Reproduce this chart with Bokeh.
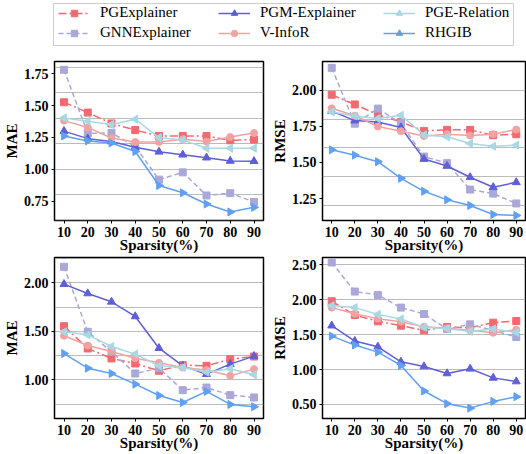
from bokeh.plotting import figure
from bokeh.layouts import column, row
from bokeh.models import (Range1d, FixedTicker, SingleIntervalTicker, Legend,
                          LegendItem, PrintfTickFormatter)
from bokeh.embed import file_html
from bokeh.resources import INLINE
import math

sparsity = [10, 20, 30, 40, 50, 60, 70, 80, 90]
x_ticks = [10, 20, 30, 40, 50, 60, 70, 80, 90]
methods = ["PGExplainer", "GNNExplainer", "PGM-Explainer", "V-InfoR", "PGE-Relation", "RHGIB"]

# ---- top-left: MAE ----
tl_pgexplainer = [1.526, 1.445, 1.360, 1.308, 1.262, 1.262, 1.262, 1.228, 1.234]
tl_gnnexplainer = [1.780, 1.282, 1.286, 1.180, 0.920, 0.977, 0.796, 0.814, 0.745]
tl_pgm = [1.300, 1.241, 1.218, 1.174, 1.138, 1.115, 1.092, 1.066, 1.064]
tl_vinfor = [1.382, 1.328, 1.246, 1.215, 1.215, 1.236, 1.218, 1.254, 1.285]
tl_pgerelation = [1.403, 1.377, 1.352, 1.393, 1.249, 1.231, 1.166, 1.166, 1.166]
tl_rhgib = [1.262, 1.223, 1.207, 1.140, 0.874, 0.817, 0.729, 0.667, 0.703]

# ---- top-right: RMSE ----
tr_pgexplainer = [1.968, 1.901, 1.830, 1.780, 1.718, 1.725, 1.725, 1.688, 1.695]
tr_gnnexplainer = [2.154, 1.768, 1.872, 1.770, 1.540, 1.495, 1.312, 1.284, 1.216]
tr_pgm = [1.855, 1.789, 1.780, 1.741, 1.523, 1.475, 1.397, 1.328, 1.362]
tr_vinfor = [1.874, 1.823, 1.748, 1.716, 1.683, 1.695, 1.686, 1.695, 1.727]
tr_pgerelation = [1.849, 1.821, 1.803, 1.826, 1.690, 1.677, 1.631, 1.612, 1.619]
tr_rhgib = [1.587, 1.550, 1.505, 1.390, 1.300, 1.241, 1.202, 1.140, 1.133]

# ---- bottom-left: MAE ----
bl_pgexplainer = [1.553, 1.323, 1.220, 1.168, 1.093, 1.151, 1.144, 1.213, 1.240]
bl_gnnexplainer = [2.165, 1.495, 1.290, 1.065, 1.120, 0.893, 0.920, 0.842, 0.818]
bl_pgm = [1.986, 1.890, 1.804, 1.653, 1.326, 1.144, 1.058, 1.162, 1.244]
bl_vinfor = [1.454, 1.354, 1.292, 1.223, 1.175, 1.127, 1.100, 1.041, 1.110]
bl_pgerelation = [1.495, 1.464, 1.344, 1.265, 1.144, 1.127, 1.079, 1.113, 1.052]
bl_rhgib = [1.271, 1.120, 1.065, 0.955, 0.838, 0.766, 0.880, 0.746, 0.722]

# ---- bottom-right: RMSE ----
br_pgexplainer = [1.978, 1.781, 1.690, 1.628, 1.561, 1.609, 1.600, 1.671, 1.695]
br_gnnexplainer = [2.534, 2.117, 2.069, 1.887, 1.796, 1.580, 1.647, 1.561, 1.465]
br_pgm = [1.628, 1.408, 1.326, 1.110, 1.043, 0.943, 1.010, 0.880, 0.828]
br_vinfor = [1.887, 1.800, 1.729, 1.685, 1.614, 1.590, 1.561, 1.527, 1.570]
br_pgerelation = [1.915, 1.887, 1.790, 1.724, 1.604, 1.585, 1.547, 1.580, 1.532]
br_rhgib = [1.479, 1.350, 1.249, 1.058, 0.692, 0.510, 0.447, 0.543, 0.610]

colors = ["#f26a6f", "#aaa7d9", "#5f5fd8", "#f3a2a2", "#a7d8e3", "#60a0f3"]
dashes = ["8 3 2 3", "5 3", "solid", "solid", "solid", "solid"]
markers = ["square", "square", "triangle", "circle", "triangle", "triangle"]
angles = [0, 0, 0, 0, math.pi / 2, -math.pi / 2]
msizes = [7, 7, 8, 7, 8, 8]

SERIF = "Liberation Serif"


def make_panel(series, ylabel, yr, yticks, grid_iv, w, left, right, top, bottom, h):
    p = figure(width=w, height=h, toolbar_location=None, output_backend="svg",
               x_range=Range1d(6, 94), y_range=Range1d(*yr),
               min_border_left=left, min_border_right=right,
               min_border_top=top, min_border_bottom=bottom)
    for i, ys in enumerate(series):
        p.line(sparsity, ys, line_color=colors[i], line_width=1.5, line_dash=dashes[i])
        p.scatter(sparsity, ys, marker=markers[i], size=msizes[i], angle=angles[i],
                  fill_color=colors[i], line_color=colors[i])
    p.xaxis.ticker = FixedTicker(ticks=x_ticks)
    p.yaxis.ticker = FixedTicker(ticks=yticks)
    p.yaxis.formatter = PrintfTickFormatter(format="%.2f")
    p.xgrid.visible = False
    p.ygrid.ticker = SingleIntervalTicker(interval=grid_iv)
    p.ygrid.grid_line_color = "#777777"
    p.ygrid.grid_line_dash = "1 1"
    p.ygrid.grid_line_width = 1
    p.outline_line_color = "black"
    p.outline_line_width = 1.5
    p.outline_line_alpha = 1
    for ax in (p.xaxis[0], p.yaxis[0]):
        ax.axis_line_color = None
        ax.major_tick_out = 3
        ax.major_tick_in = 0
        ax.minor_tick_out = 0
        ax.minor_tick_in = 0
        ax.major_tick_line_color = "black"
        ax.major_label_standoff = 3
        ax.major_label_text_font = SERIF
        ax.major_label_text_font_style = "bold"
        ax.major_label_text_font_size = "14px"
        ax.major_label_text_color = "black"
        ax.axis_label_text_font = SERIF
        ax.axis_label_text_font_style = "bold"
        ax.axis_label_text_font_size = "15px"
        ax.axis_label_text_color = "black"
    p.xaxis.axis_label_standoff = -3
    p.yaxis.axis_label_standoff = 1
    p.xaxis.axis_label = "Sparsity(%)"
    p.yaxis.axis_label = ylabel
    return p


LW, RW = 268, 258
p1 = make_panel([tl_pgexplainer, tl_gnnexplainer, tl_pgm, tl_vinfor, tl_pgerelation, tl_rhgib],
                "MAE", (0.60, 1.845), [0.75, 1.0, 1.25, 1.5, 1.75], 0.2,
                LW, 54, 5, 11, 33, 205)
p2 = make_panel([tr_pgexplainer, tr_gnnexplainer, tr_pgm, tr_vinfor, tr_pgerelation, tr_rhgib],
                "RMSE", (1.098, 2.198), [1.25, 1.5, 1.75, 2.0], 0.2,
                RW, 49, 1, 11, 33, 205)
p3 = make_panel([bl_pgexplainer, bl_gnnexplainer, bl_pgm, bl_vinfor, bl_pgerelation, bl_rhgib],
                "MAE", (0.601, 2.261), [1.0, 1.5, 2.0], 0.25,
                LW, 54, 5, 2, 36, 199)
p4 = make_panel([br_pgexplainer, br_gnnexplainer, br_pgm, br_vinfor, br_pgerelation, br_rhgib],
                "RMSE", (0.298, 2.605), [0.5, 1.0, 1.5, 2.0, 2.5], 0.5,
                RW, 49, 1, 2, 36, 199)

# ---- legend strip ----
lg = figure(width=526, height=50, toolbar_location=None, output_backend="svg",
            x_range=Range1d(0, 1), y_range=Range1d(0, 1),
            min_border_left=53, min_border_right=13, min_border_top=3, min_border_bottom=5)
lg.axis.visible = False
lg.grid.visible = False
lg.outline_line_color = "#cccccc"
lg.outline_line_width = 1
items = []
for i, name in enumerate(methods):
    # off-frame sample so the legend has a glyph to draw
    r1 = lg.line([-5, -4], [-5, -5], line_color=colors[i], line_width=1.5, line_dash=dashes[i])
    r2 = lg.scatter([-5], [-5], marker=markers[i], size=msizes[i], angle=angles[i],
                    fill_color=colors[i], line_color=colors[i])
    items.append(LegendItem(label=name, renderers=[r1, r2]))
col_x = [5, 165, 330]
for c in range(3):
    leg = Legend(items=items[2 * c:2 * c + 2], location=(col_x[c], 4), orientation="vertical",
                 padding=0, margin=0, spacing=3, glyph_width=32, glyph_height=16,
                 label_height=16, label_standoff=10, label_text_font=SERIF,
                 label_text_font_size="15px", label_text_color="black",
                 border_line_alpha=0, background_fill_alpha=0)
    lg.add_layout(leg, "center")

layout = column(lg, row(p1, p2), row(p3, p4))
open("out.html", "w").write(file_html(layout, INLINE))
